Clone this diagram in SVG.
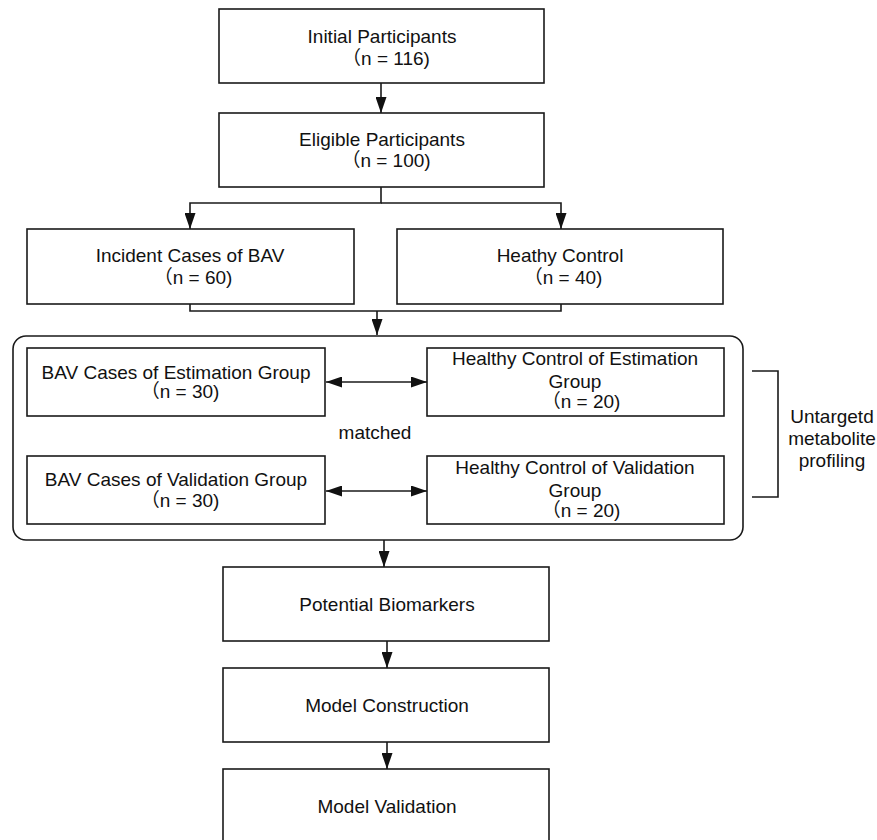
<svg xmlns="http://www.w3.org/2000/svg" width="877" height="840" viewBox="0 0 877 840">
<style>
.box{fill:#fff;stroke:#1a1a1a;stroke-width:1.6}
.ln{fill:none;stroke:#1a1a1a;stroke-width:1.6}
text{font-family:"Liberation Sans","Noto Sans CJK SC",Arial,sans-serif;font-size:19px;fill:#111;text-anchor:middle}
</style>
<defs>
<marker id="ah" viewBox="0 0 16 11" refX="16" refY="5.5" markerWidth="16" markerHeight="11" markerUnits="userSpaceOnUse" orient="auto-start-reverse">
<path d="M0,0 L16,5.5 L0,11 Z" fill="#111"/>
</marker>
</defs>
<rect width="877" height="840" fill="#fff"/>
<g id="connectors">
<line class="ln" x1="381" y1="83" x2="381" y2="113" marker-end="url(#ah)"/>
<polyline class="ln" points="381,187 381,203 190,203 190,229" marker-end="url(#ah)"/>
<polyline class="ln" points="381,203 561,203 561,229" marker-end="url(#ah)"/>
<polyline class="ln" points="190,304 190,311 561,311 561,304"/>
<line class="ln" x1="377" y1="311" x2="377" y2="335" marker-end="url(#ah)"/>
<line class="ln" x1="326" y1="382" x2="427" y2="382" marker-start="url(#ah)" marker-end="url(#ah)"/>
<line class="ln" x1="326" y1="491" x2="427" y2="491" marker-start="url(#ah)" marker-end="url(#ah)"/>
<line class="ln" x1="384" y1="540" x2="384" y2="567" marker-end="url(#ah)"/>
<line class="ln" x1="387" y1="641" x2="387" y2="668" marker-end="url(#ah)"/>
<line class="ln" x1="387" y1="742" x2="387" y2="769" marker-end="url(#ah)"/>
<polyline class="ln" points="752,371 778,371 778,497 752,497"/>
</g>
<g id="matched-group">
<rect class="ln" x="13" y="336" width="730" height="204" rx="13" ry="13"/>
<text x="375" y="439">matched</text>
</g>
<g id="initial">
<rect class="box" x="219" y="9" width="325" height="74"/>
<text x="382" y="43">Initial Participants</text>
<text x="386" y="65">（n = 116)</text>
</g>
<g id="eligible">
<rect class="box" x="219" y="113" width="325" height="74"/>
<text x="382" y="146">Eligible Participants</text>
<text x="386" y="167">（n = 100)</text>
</g>
<g id="incident">
<rect class="box" x="27" y="229" width="327" height="75"/>
<text x="190" y="262">Incident Cases of BAV</text>
<text x="193" y="284">（n = 60)</text>
</g>
<g id="heathy">
<rect class="box" x="397" y="229" width="326" height="75"/>
<text x="560" y="262">Heathy Control</text>
<text x="563" y="284">（n = 40)</text>
</g>
<g id="bav-est">
<rect class="box" x="27" y="348" width="298" height="68"/>
<text x="176" y="379">BAV Cases of Estimation Group</text>
<text x="180" y="398">（n = 30)</text>
</g>
<g id="hc-est">
<rect class="box" x="427" y="348" width="297" height="68"/>
<text x="575" y="365">Healthy Control of Estimation</text>
<text x="575" y="388">Group</text>
<text x="581" y="408">（n = 20)</text>
</g>
<g id="bav-val">
<rect class="box" x="27" y="456" width="298" height="68"/>
<text x="176" y="486">BAV Cases of Validation Group</text>
<text x="180" y="507">（n = 30)</text>
</g>
<g id="hc-val">
<rect class="box" x="427" y="456" width="297" height="68"/>
<text x="575" y="474">Healthy Control of Validation</text>
<text x="575" y="497">Group</text>
<text x="581" y="517">（n = 20)</text>
</g>
<g id="untargeted">
<text x="832" y="423">Untargetd</text>
<text x="832" y="445">metabolite</text>
<text x="832" y="467">profiling</text>
</g>
<g id="biomarkers">
<rect class="box" x="223" y="567" width="326" height="74"/>
<text x="387" y="611">Potential Biomarkers</text>
</g>
<g id="construction">
<rect class="box" x="223" y="668" width="326" height="74"/>
<text x="387" y="712">Model Construction</text>
</g>
<g id="validation">
<rect class="box" x="223" y="769" width="326" height="80"/>
<text x="387" y="813">Model Validation</text>
</g>
</svg>
